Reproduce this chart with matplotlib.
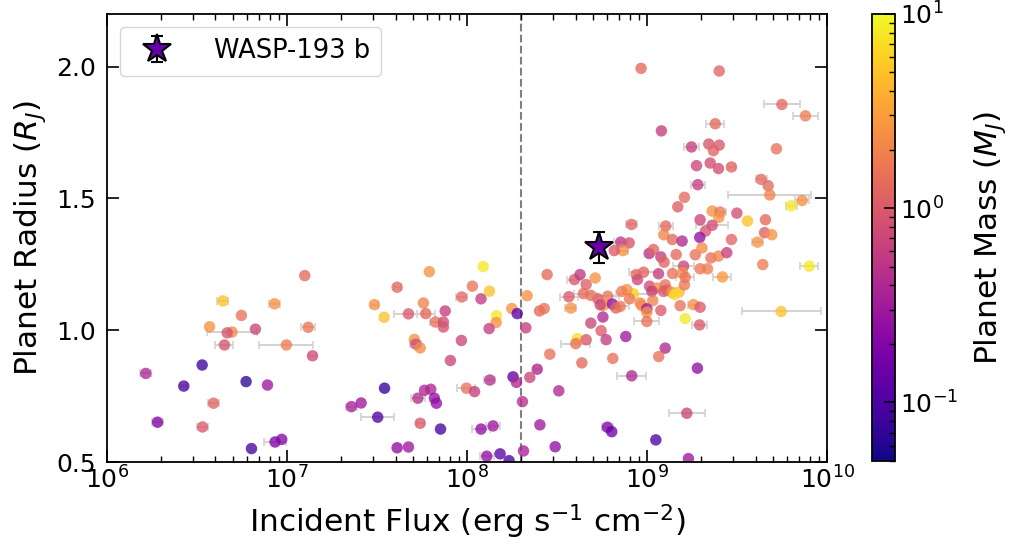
import numpy as np
import matplotlib
matplotlib.use("Agg")
import matplotlib.pyplot as plt
from matplotlib.colors import LogNorm
from matplotlib.ticker import NullLocator

# planet values: log10 incident flux (erg/s/cm2),
# radius (R_J), mass (M_J), flux error (dex, 0 = no visible bar)

# low irradiation (< 2e7)
lf_a = [7.098, 6.643, 6.930, 6.746, 6.569, 6.694, 6.667, 6.824, 7.117, 6.652,
        6.996, 7.141, 6.528, 6.215, 6.426, 6.772, 6.891, 6.591, 6.280, 6.530,
        6.933, 6.970, 6.802]
rad_a = [1.207, 1.111, 1.100, 1.056, 1.013, 0.993, 0.990, 1.004, 1.011, 0.944,
         0.944, 0.903, 0.868, 0.836, 0.788, 0.805, 0.792, 0.723, 0.651, 0.633,
         0.576, 0.586, 0.551]
mass_a = [1.3, 5, 2.5, 1.5, 2.5, 2.2, 0.9, 0.7, 1.6, 0.9,
          1.8, 0.8, 0.08, 0.4, 0.1, 0.07, 0.3, 1.2, 0.2, 1.0,
          0.2, 0.22, 0.09]
err_a = [0, 0.03, 0.03, 0, 0, 0.14, 0, 0, 0.04, 0.05,
         0.15, 0.02, 0, 0.03, 0.02, 0, 0, 0.03, 0.03, 0.03,
         0.06, 0, 0]

# intermediate (2e7 - 6e8)
lf_b = [7.790, 8.089, 8.444, 8.596, 7.611, 8.029, 8.124, 7.970, 8.077, 8.333,
        8.565, 7.485, 7.539, 7.674, 7.757, 7.770, 7.878, 7.824, 7.868, 7.868,
        8.163, 8.161, 8.122, 8.248, 8.278, 8.402, 8.428, 8.326, 8.576, 7.707,
        7.715, 7.739, 7.968, 7.907, 8.459, 8.389, 8.348, 8.255, 8.274, 8.126,
        8.509, 7.541, 7.763, 7.798, 7.726, 7.818, 7.829, 7.996, 8.041, 8.307,
        7.357, 7.411, 7.503, 7.739, 7.852, 8.077, 8.144, 8.404, 7.611, 7.674,
        8.109, 8.183, 8.313, 8.489, 8.233]
rad_b = [1.222, 1.241, 1.211, 1.192, 1.163, 1.167, 1.148, 1.126, 1.119, 1.131,
         1.127, 1.097, 1.049, 1.062, 1.103, 1.063, 1.073, 1.031, 1.031, 1.012,
         1.055, 1.029, 1.006, 1.082, 1.063, 1.073, 1.082, 1.009, 1.084, 0.965,
         0.947, 0.933, 0.961, 0.885, 0.909, 0.852, 0.821, 0.823, 0.802, 0.811,
         0.770, 0.780, 0.772, 0.776, 0.742, 0.742, 0.723, 0.780, 0.767, 0.729,
         0.710, 0.724, 0.670, 0.647, 0.625, 0.625, 0.637, 0.641, 0.554, 0.557,
         0.522, 0.531, 0.542, 0.558, 0.505]
mass_b = [2.5, 8, 1.3, 1.0, 1.3, 1.6, 5, 1.3, 0.6, 2.5,
          1.0, 2.5, 5, 1.0, 2.0, 1.3, 0.6, 1.5, 0.8, 0.9,
          8, 2.5, 0.6, 2.5, 0.12, 1.3, 1.5, 0.6, 2.5, 2.5,
          0.8, 2.3, 0.7, 0.7, 1.5, 0.4, 0.7, 0.12, 0.4, 0.45,
          0.4, 0.07, 0.4, 0.4, 0.45, 0.25, 0.25, 1.5, 0.6, 0.45,
          0.35, 0.3, 0.1, 1.0, 0.09, 0.25, 0.3, 0.3, 0.25, 0.3,
          0.25, 0.12, 0.35, 0.25, 0.1]
err_b = [0, 0, 0, 0.04, 0.02, 0, 0, 0.03, 0, 0,
         0.05, 0.02, 0, 0.08, 0, 0.05, 0, 0.03, 0, 0,
         0, 0, 0, 0, 0, 0, 0, 0, 0.03, 0,
         0.03, 0, 0, 0, 0, 0.02, 0, 0, 0, 0.03,
         0, 0, 0, 0, 0.04, 0, 0, 0.05, 0, 0,
         0.03, 0, 0.09, 0.02, 0, 0.05, 0.04, 0, 0, 0,
         0.04, 0, 0, 0, 0]

# inflated hot Jupiters (R > 1.33)
lf_c = [8.966, 9.400, 9.748, 9.879, 9.378, 9.079, 9.246, 9.342, 9.400, 9.368,
        9.718, 9.274, 9.350, 9.396, 9.468, 9.281, 9.633, 9.672, 9.681, 9.861,
        9.800, 9.207, 9.170, 9.361, 9.405, 9.398, 9.498, 9.557, 9.657, 9.294,
        9.361, 9.324, 9.292, 9.468, 9.652, 9.692, 8.913, 9.103, 9.092, 9.140,
        9.194, 8.853, 8.900, 9.613]
rad_c = [1.993, 1.983, 1.856, 1.813, 1.783, 1.756, 1.695, 1.706, 1.702, 1.681,
         1.688, 1.624, 1.634, 1.613, 1.619, 1.552, 1.572, 1.548, 1.513, 1.492,
         1.472, 1.504, 1.468, 1.452, 1.448, 1.428, 1.444, 1.414, 1.419, 1.419,
         1.398, 1.376, 1.352, 1.344, 1.370, 1.362, 1.401, 1.395, 1.362, 1.344,
         1.338, 1.334, 1.331, 1.334]
mass_c = [1.3, 1.2, 1.3, 1.8, 1.3, 0.6, 0.6, 0.9, 1.0, 1.2,
          1.5, 0.7, 0.8, 0.8, 1.2, 0.6, 1.3, 1.3, 2.0, 2.5,
          8, 1.3, 1.1, 2.5, 1.6, 2.5, 0.8, 5, 1.3, 0.7,
          0.8, 0.9, 0.25, 1.2, 1.1, 2.5, 1.2, 1.3, 2.0, 1.3,
          0.4, 0.55, 0.9, 2.5]
err_c = [0, 0, 0.1, 0.07, 0.05, 0, 0.04, 0, 0, 0,
         0, 0, 0, 0, 0.02, 0.04, 0.03, 0, 0.23, 0.04,
         0.03, 0, 0, 0, 0.03, 0, 0, 0, 0, 0,
         0.09, 0, 0, 0, 0, 0, 0.03, 0.04, 0, 0,
         0, 0.04, 0, 0.03]

# dense cloud around 1e9
lf_d = [8.865, 8.817, 9.011, 9.035, 9.076, 9.094, 9.161, 9.267, 9.304, 9.354,
        9.294, 9.335, 9.202, 9.141, 9.196, 9.211, 9.063, 8.980, 8.939, 8.946,
        9.013, 9.054, 9.026, 9.100, 9.109, 9.091, 9.137, 9.178, 9.152, 9.207,
        8.924, 8.887, 8.859, 8.902, 8.781, 8.726, 8.711, 8.757, 8.807, 8.739,
        8.826, 8.850, 8.961, 8.970, 9.031, 8.998, 8.998, 9.076, 9.183, 9.257,
        9.294, 9.211, 9.291, 8.998, 8.754, 8.744, 8.881, 8.772, 9.100]
rad_d = [1.302, 1.302, 1.291, 1.306, 1.278, 1.258, 1.287, 1.286, 1.312, 1.274,
         1.233, 1.233, 1.243, 1.215, 1.217, 1.201, 1.214, 1.220, 1.211, 1.192,
         1.167, 1.160, 1.148, 1.172, 1.153, 1.147, 1.144, 1.145, 1.135, 1.172,
         1.138, 1.154, 1.147, 1.119, 1.129, 1.119, 1.198, 1.094, 1.099, 1.096,
         1.084, 1.090, 1.103, 1.093, 1.112, 1.081, 1.068, 1.075, 1.093, 1.097,
         1.087, 1.044, 1.020, 1.033, 1.050, 0.998, 0.976, 0.964, 0.932]
mass_d = [2.5, 1.0, 0.45, 1.2, 0.6, 1.2, 1.3, 1.5, 2.3, 1.5,
          1.6, 1.8, 0.7, 1.5, 2.3, 1.6, 0.6, 1.2, 1.3, 0.75,
          0.8, 2.3, 0.6, 1.5, 1.3, 1.0, 2.5, 4.5, 7, 1.6,
          6, 2.5, 1.8, 1.6, 1.6, 1.0, 2.5, 2.5, 0.25, 0.7,
          1.2, 1.5, 1.9, 2.3, 2.0, 0.3, 2.5, 1.0, 1.5, 2.5,
          1.0, 8, 1.0, 1.5, 0.4, 1.0, 0.3, 0.6, 0.4]
err_d = [0.03, 0, 0, 0, 0, 0, 0, 0, 0, 0,
         0, 0, 0.06, 0, 0, 0.05, 0, 0.08, 0, 0,
         0, 0, 0, 0, 0, 0, 0, 0, 0, 0,
         0.1, 0, 0, 0, 0.06, 0, 0, 0, 0, 0,
         0, 0.05, 0, 0, 0, 0, 0, 0, 0, 0.03,
         0, 0, 0.04, 0.07, 0, 0, 0, 0, 0]

# high flux edge and lower right
lf_e = [9.396, 9.442, 9.642, 9.900, 9.418, 9.744, 8.627, 8.661, 8.646, 8.687,
        8.687, 8.611, 8.603, 8.661, 8.637, 8.809, 9.064, 8.914, 9.279, 8.779,
        8.803, 9.048, 9.220, 9.229]
rad_e = [1.281, 1.294, 1.249, 1.243, 1.202, 1.071, 1.211, 1.173, 1.139, 1.132,
         1.027, 0.968, 0.949, 0.964, 0.876, 0.893, 0.900, 0.827, 0.856, 0.632,
         0.615, 0.584, 0.685, 0.513]
mass_e = [2.0, 0.6, 1.8, 8, 2.8, 5, 0.55, 1.1, 1.3, 1.5,
          0.7, 7, 1.5, 1.0, 1.3, 1.5, 1.5, 0.4, 0.25, 0.2,
          0.15, 0.1, 0.7, 0.3]
err_e = [0, 0, 0, 0.05, 0.05, 0.22, 0, 0, 0.05, 0,
         0, 0, 0.08, 0, 0, 0, 0, 0.08, 0, 0.03,
         0, 0, 0.1, 0]

# WASP-193 b
wasp_flux = 5.41e8
wasp_rad = 1.314
wasp_rad_err = 0.058
wasp_mass = 0.139

log_flux = np.array(lf_a + lf_b + lf_c + lf_d + lf_e)
radius = np.array(rad_a + rad_b + rad_c + rad_d + rad_e)
mass = np.array(mass_a + mass_b + mass_c + mass_d + mass_e)
err_dex = np.array(err_a + err_b + err_c + err_d + err_e)
flux = 10 ** log_flux

norm = LogNorm(vmin=0.05, vmax=10)
cmap = plt.get_cmap("plasma")

fig = plt.figure(figsize=(10.2, 5.52), dpi=100)
ax = fig.add_axes([0.105, 0.163, 0.706, 0.812])
cax = fig.add_axes([0.855, 0.165, 0.0225, 0.81])

has_err = err_dex > 0
lo = flux[has_err] * (1 - 10 ** -err_dex[has_err])
hi = flux[has_err] * (10 ** err_dex[has_err] - 1)
ax.errorbar(flux[has_err], radius[has_err], xerr=[lo, hi], fmt="none",
            ecolor="#d3d3d3", elinewidth=1.5, capsize=3, capthick=1.2, zorder=1)

ax.scatter(flux, radius, c=mass, cmap=cmap, norm=norm, s=68, alpha=0.78,
           edgecolors="none", zorder=2)

ax.axvline(2e8, color="grey", ls="--", lw=1.5, zorder=0)

ax.errorbar(wasp_flux, wasp_rad, yerr=wasp_rad_err, fmt="*", ms=21,
            mfc=cmap(norm(wasp_mass)), mec="k", mew=1.5, ecolor="k",
            elinewidth=1.5, capsize=4, capthick=1.5, zorder=5, label="WASP-193 b")

ax.set_xscale("log")
ax.set_xlim(1e6, 1e10)
ax.set_ylim(0.5, 2.2)
ax.set_yticks([0.5, 1.0, 1.5, 2.0])
ax.yaxis.set_minor_locator(NullLocator())
ax.tick_params(which="both", direction="in", top=True, right=True, labelsize=18)
ax.tick_params(which="major", length=8.5, width=1.2)
ax.tick_params(which="minor", length=4.5, width=1.0)
ax.tick_params(axis="y", pad=8)
for sp in ax.spines.values():
    sp.set_linewidth(1.3)

ax.set_xlabel("Incident Flux (erg s$^{-1}$ cm$^{-2}$)", fontsize=22.5, labelpad=6)
ax.set_ylabel("Planet Radius ($R_J$)", fontsize=22.5, labelpad=6)
ax.legend(loc="upper left", fontsize=18.5, borderpad=0.45, handletextpad=1.2)

sm = plt.cm.ScalarMappable(norm=norm, cmap=cmap)
cb = fig.colorbar(sm, cax=cax)
cb.ax.tick_params(which="both", direction="in", labelsize=18)
cb.ax.tick_params(which="major", length=8, width=1.2)
cb.ax.tick_params(which="minor", length=4.5, width=1.0)
cb.outline.set_linewidth(1.3)
cb.set_label("Planet Mass ($M_J$)", fontsize=22.5, labelpad=10)

fig.savefig("out.png", dpi=100)
